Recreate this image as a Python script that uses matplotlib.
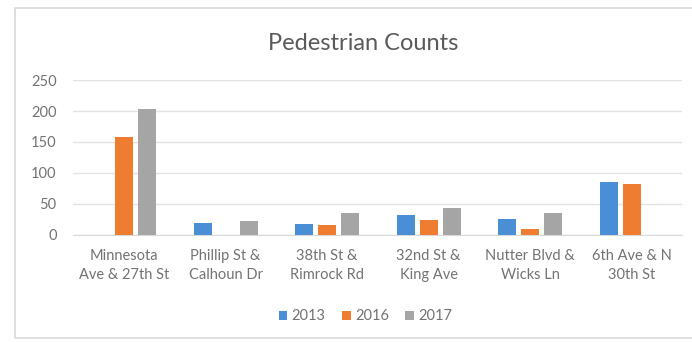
import numpy as np
import matplotlib.pyplot as plt
from matplotlib.patches import Rectangle

# pedestrian counts per intersection
locations = ['Minnesota\nAve & 27th St', 'Phillip St &\nCalhoun Dr', '38th St &\nRimrock Rd',
             '32nd St &\nKing Ave', 'Nutter Blvd &\nWicks Ln', '6th Ave & N\n30th St']
years = ['2013', '2016', '2017']
counts_2013 = [0, 19, 17, 32, 25, 86]
counts_2016 = [158, 0, 16, 24, 10, 82]
counts_2017 = [203, 23, 35, 43, 35, 0]
colors = ['#4a8fd6', '#ee7d31', '#a5a5a5']
text_color = '#737373'

plt.rcParams['font.family'] = ['Lato', 'DejaVu Sans']

fig = plt.figure(figsize=(6.92, 3.42), dpi=100)
ax = fig.add_axes([0.106, 0.313, 0.88, 0.453])

x = np.arange(len(locations))
width = 0.177
step = 0.227
for i, (vals, year) in enumerate(zip([counts_2013, counts_2016, counts_2017], years)):
    ax.bar(x + (i - 1) * step, vals, width, color=colors[i], label=year, zorder=3)

ax.set_xlim(-0.5, len(locations) - 0.5)
ax.set_ylim(0, 250)
ax.set_yticks([0, 50, 100, 150, 200, 250])
ax.grid(axis='y', color='#e3e3e3', linewidth=1, zorder=0)
for s in ['top', 'right', 'left']:
    ax.spines[s].set_visible(False)
ax.spines['bottom'].set_color('#d9d9d9')
ax.tick_params(axis='y', length=0, labelsize=10.5, colors=text_color, pad=12)
ax.tick_params(axis='x', length=0, labelsize=10.5, colors=text_color, pad=10)
ax.set_xticks(x)
ax.set_xticklabels(locations, linespacing=1.45)

fig.text(0.525, 0.872, 'Pedestrian Counts', ha='center', va='center', fontsize=17, color='#5a5a5a')
fig.legend(loc='center', bbox_to_anchor=(0.528, 0.075), ncol=3, frameon=False, fontsize=10.5,
           handlelength=0.6, handleheight=0.6, handletextpad=0.3, columnspacing=1.1,
           labelcolor=text_color)

# light frame around the chart area
fig.add_artist(Rectangle((0.022, 0.012), 1.0, 0.965, transform=fig.transFigure,
                         fill=False, edgecolor='#d9d9d9', linewidth=1.2))

fig.savefig('out.png', dpi=100)
